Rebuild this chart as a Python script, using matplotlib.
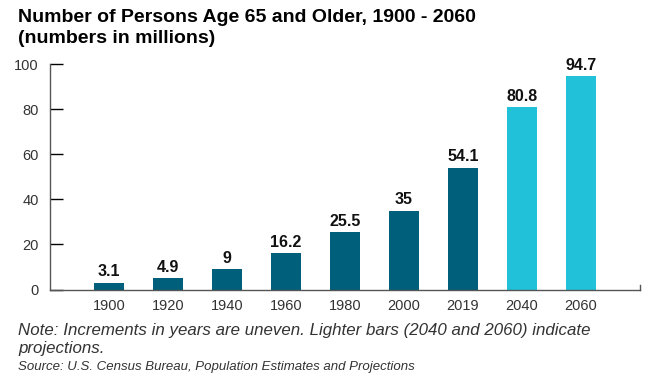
import matplotlib
matplotlib.use("Agg")
import matplotlib.pyplot as plt

years = ["1900", "1920", "1940", "1960", "1980", "2000", "2019", "2040", "2060"]
values = [3.1, 4.9, 9, 16.2, 25.5, 35, 54.1, 80.8, 94.7]
labels = ["3.1", "4.9", "9", "16.2", "25.5", "35", "54.1", "80.8", "94.7"]
projected = [False, False, False, False, False, False, False, True, True]
yticks = [0, 20, 40, 60, 80, 100]

dark = "#005F7A"
light = "#21C1DA"

plt.rcParams['font.family'] = ['Liberation Sans', 'DejaVu Sans']

fig = plt.figure(figsize=(6.57, 3.81), dpi=100)
ax = fig.add_axes([50/657, 1-289.5/381, 590/657, 225.5/381])

x = list(range(len(years)))
colors = [light if p else dark for p in projected]
bars = ax.bar(x, values, width=0.51, color=colors)
for xi, v, lab in zip(x, values, labels):
    ax.text(xi, v + 2.7, lab, ha='center', va='baseline', fontsize=11.5,
            fontweight='bold', color='#111111')

ax.set_xlim(-1, 9)
ax.set_ylim(0, 100)
ax.set_yticks(yticks)
ax.set_yticklabels([str(t) for t in yticks], fontsize=10.5, color='#333333')
ax.set_xticks(x)
ax.set_xticklabels(years, fontsize=10.5, color='#333333')
ax.tick_params(axis='x', length=0, pad=7)
ax.tick_params(axis='y', direction='in', length=9.5, width=1, color='black', pad=8)
for s in ['top', 'right']:
    ax.spines[s].set_visible(False)
ax.spines['left'].set_color('#555555')
ax.spines['bottom'].set_color('#555555')
ax.spines['left'].set_linewidth(1)
ax.spines['bottom'].set_linewidth(1)
ax.plot([9, 9], [0, 2.2], color='#555555', lw=1, clip_on=False)

fig.text(18/657, 1-22/381, "Number of Persons Age 65 and Older, 1900 - 2060",
         fontsize=14, fontweight='bold', color='black', va='baseline')
fig.text(18/657, 1-43/381, "(numbers in millions)",
         fontsize=14, fontweight='bold', color='black', va='baseline')
fig.text(18/657, 1-335/381,
         "Note: Increments in years are uneven. Lighter bars (2040 and 2060) indicate",
         fontsize=12.2, style='italic', color='#333333', va='baseline')
fig.text(18/657, 1-353/381, "projections.",
         fontsize=12.2, style='italic', color='#333333', va='baseline')
fig.text(18/657, 1-370/381, "Source: U.S. Census Bureau, Population Estimates and Projections",
         fontsize=9.5, style='italic', color='#333333', va='baseline')

fig.savefig("out.png", dpi=100)
